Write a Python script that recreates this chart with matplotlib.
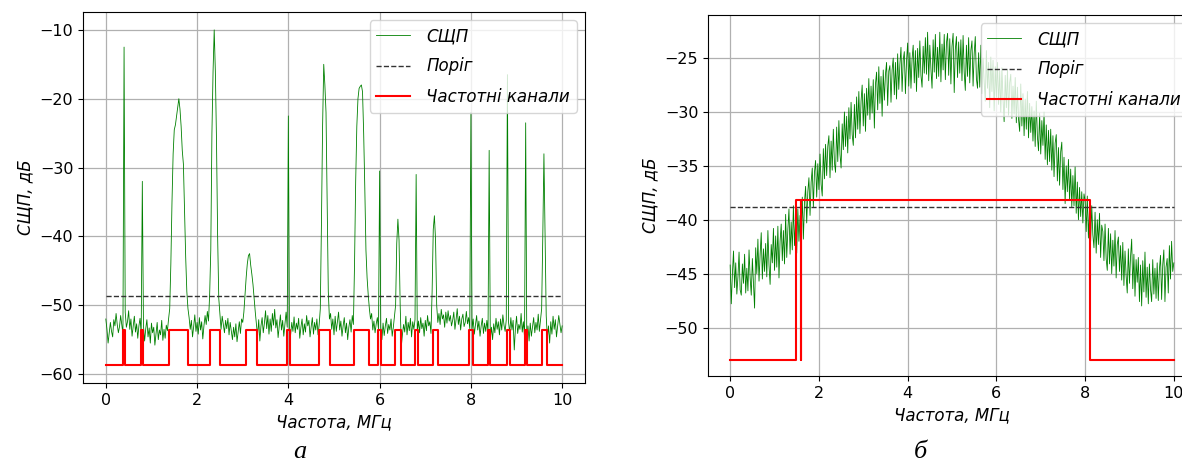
import matplotlib
matplotlib.use("Agg")
import matplotlib.pyplot as plt
import numpy as np

# ---------------- data: panel (а) ----------------
freq_step_a = 0.025  # MHz between PSD samples
psd_a = [
    -52.0,-53.5,-55.5,-54.0,-52.5,-53.8,-54.6,-52.1,-53.0,-51.2,-52.8,-54.0,-53.1,-51.5,-52.9,-54.2,
    -12.5,-51.0,-53.2,-52.4,-50.8,-53.5,-52.0,-54.5,-53.1,-51.6,-53.9,-52.7,-54.8,-53.0,-51.9,-54.1,
    -32.0,-53.0,-55.2,-53.4,-52.1,-54.6,-53.3,-55.5,-52.6,-54.0,-53.2,-55.8,-54.1,-52.5,-55.0,-53.6,
    -54.3,-52.2,-55.1,-53.5,-54.8,-52.9,-53.7,-52.0,-50.5,-44.0,-35.0,-28.0,-24.5,-23.8,-22.5,-21.2,
    -20.0,-21.5,-24.0,-27.5,-29.5,-36.0,-43.0,-48.0,-50.5,-51.8,-53.5,-52.2,-54.6,-53.1,-51.4,-53.8,
    -52.5,-54.2,-51.8,-53.6,-52.4,-54.9,-53.0,-51.5,-52.8,-50.9,-52.3,-48.5,-42.0,-25.0,-16.0,-10.0,
    -16.0,-26.0,-40.0,-49.0,-51.2,-53.5,-51.6,-52.8,-54.0,-52.2,-53.4,-51.9,-54.3,-52.5,-53.8,-55.0,
    -53.2,-54.6,-52.7,-55.3,-53.9,-52.4,-54.1,-52.0,-52.5,-51.0,-48.5,-46.0,-44.0,-42.8,-42.5,-44.2,
    -45.5,-47.0,-49.0,-51.0,-52.8,-54.5,-52.1,-55.2,-53.0,-51.8,-54.0,-52.6,-50.8,-53.4,-51.5,-54.2,
    -52.0,-53.8,-51.2,-52.9,-50.6,-53.3,-52.1,-54.7,-53.0,-51.4,-53.6,-52.2,-54.5,-52.8,-51.0,-53.2,
    -22.5,-56.0,-54.2,-52.5,-53.8,-51.7,-54.0,-52.6,-53.5,-51.9,-54.8,-53.2,-52.0,-54.3,-52.7,-53.9,
    -51.5,-53.0,-52.2,-54.6,-53.1,-51.8,-54.2,-52.5,-53.6,-52.0,-54.3,-52.8,-50.5,-38.0,-24.0,-15.0,
    -18.0,-22.0,-35.0,-48.0,-52.0,-51.2,-53.5,-52.0,-54.3,-51.6,-53.8,-52.4,-51.0,-53.6,-52.3,-54.5,
    -53.0,-51.8,-54.0,-52.6,-55.0,-53.2,-52.1,-53.9,-51.5,-52.8,-44.0,-32.0,-24.0,-20.0,-18.5,-18.2,
    -18.0,-19.0,-25.0,-33.0,-42.0,-46.0,-48.5,-50.5,-52.0,-51.2,-53.6,-52.3,-54.0,-52.7,-51.8,-53.5,
    -30.5,-53.2,-55.0,-52.6,-54.4,-53.0,-51.9,-54.1,-52.8,-53.6,-52.0,-54.5,-53.2,-51.6,-50.0,-41.0,
    -37.5,-40.5,-50.0,-56.0,-54.2,-52.8,-53.9,-51.6,-54.3,-52.5,-53.7,-51.9,-54.6,-52.4,-53.5,-52.1,
    -31.0,-53.8,-52.3,-54.0,-51.8,-53.4,-52.6,-54.5,-52.2,-53.7,-51.5,-53.0,-52.4,-54.1,-48.0,-39.0,
    -37.0,-40.5,-50.0,-52.5,-51.2,-52.8,-50.6,-52.0,-51.4,-53.2,-51.0,-52.6,-50.8,-52.3,-51.5,-53.0,
    -52.2,-51.0,-53.5,-52.1,-50.5,-52.8,-51.6,-53.6,-52.0,-51.3,-53.1,-52.5,-50.9,-52.7,-51.8,-53.4,
    -22.0,-53.5,-52.0,-54.2,-52.8,-51.5,-53.6,-52.3,-54.5,-53.0,-51.9,-54.1,-52.6,-53.8,-52.2,-54.0,
    -27.5,-54.8,-53.2,-55.0,-52.7,-54.0,-51.9,-53.5,-52.4,-54.3,-52.0,-53.6,-51.4,-52.9,-53.8,-52.1,
    -16.5,-52.5,-54.0,-51.8,-53.6,-52.2,-56.5,-53.4,-51.6,-54.1,-52.8,-53.5,-51.2,-53.9,-52.4,-54.6,
    -23.5,-56.0,-53.0,-55.2,-52.6,-54.5,-53.1,-51.8,-54.0,-52.5,-53.6,-51.3,-53.8,-52.2,-50.5,-40.0,
    -28.0,-40.0,-51.5,-54.8,-53.0,-55.5,-52.4,-54.2,-51.6,-53.5,-52.1,-54.6,-53.0,-51.5,-52.8,-54.0,
    -53.0,
]
threshold_a = -48.7
chan_low_a, chan_high_a = -58.7, -53.6
channels_a = [(0.38, 0.42), (0.77, 0.81), (1.39, 1.81), (2.29, 2.51), (3.07, 3.31),
              (3.97, 4.03), (4.68, 4.91), (5.44, 5.77), (5.97, 6.02), (6.34, 6.46),
              (6.77, 6.83), (7.16, 7.27), (7.96, 8.04), (8.38, 8.42), (8.79, 8.85),
              (9.19, 9.23), (9.56, 9.67)]

# ---------------- data: panel (б) ----------------
freq_step_b = 0.025
psd_b = [
    -44.2,-47.8,-45.0,-42.9,-46.3,-44.0,-46.9,-45.3,-43.0,-46.5,-47.0,-44.1,-45.9,-43.2,-46.8,-44.5,
    -46.6,-42.8,-45.4,-47.0,-43.6,-45.9,-48.2,-42.6,-45.0,-41.8,-45.7,-43.2,-41.2,-45.5,-42.7,-44.8,
    -42.2,-45.3,-41.0,-44.2,-46.0,-42.3,-44.0,-40.8,-44.7,-41.5,-44.4,-40.6,-45.4,-42.0,-40.4,-43.8,
    -41.0,-44.1,-39.5,-43.5,-40.9,-39.0,-43.2,-40.2,-42.8,-38.7,-42.4,-39.9,-43.1,-39.0,-42.0,-39.6,
    -41.5,-37.9,-41.8,-38.4,-36.9,-40.3,-37.4,-36.1,-39.6,-36.5,-35.2,-38.8,-35.6,-34.5,-37.9,-34.8,
    -37.2,-33.9,-36.7,-37.8,-33.4,-36.2,-33.0,-35.9,-33.2,-32.2,-36.1,-32.7,-35.4,-31.6,-34.7,-35.6,
    -31.4,-34.6,-30.8,-33.9,-35.2,-31.1,-33.5,-30.0,-33.2,-30.4,-33.8,-29.6,-32.5,-29.1,-32.1,-33.1,
    -29.3,-32.4,-28.6,-31.6,-28.1,-32.0,-29.0,-27.5,-31.3,-28.3,-31.8,-27.8,-30.3,-26.9,-30.7,-27.6,
    -30.1,-27.0,-31.5,-27.4,-26.3,-29.8,-25.8,-29.2,-26.7,-30.4,-26.1,-28.9,-26.5,-25.4,-29.4,-26.2,
    -25.7,-29.1,-26.1,-25.0,-28.4,-25.4,-28.8,-24.6,-27.9,-25.6,-24.0,-28.1,-25.2,-24.4,-28.3,-25.3,
    -23.6,-27.6,-24.5,-27.8,-25.1,-23.8,-27.3,-24.3,-28.1,-24.1,-26.8,-23.4,-26.6,-27.7,-23.9,-26.4,
    -23.1,-26.5,-22.6,-27.1,-23.8,-26.0,-27.8,-23.3,-26.3,-22.8,-26.9,-24.0,-26.7,-22.6,-27.2,-23.7,
    -26.1,-22.8,-27.0,-23.6,-22.7,-26.6,-23.2,-27.4,-23.9,-22.7,-28.2,-24.2,-23.0,-26.8,-23.5,-26.4,
    -23.3,-27.1,-22.9,-26.3,-28.0,-23.8,-26.7,-23.1,-27.3,-24.3,-23.4,-27.6,-24.6,-23.0,-26.9,-27.8,
    -24.5,-27.7,-23.8,-28.3,-25.0,-27.2,-29.0,-24.3,-27.8,-25.4,-29.6,-24.9,-28.1,-25.2,-29.9,-25.8,
    -28.6,-25.4,-29.3,-26.2,-30.0,-25.9,-28.8,-30.9,-26.6,-29.6,-26.1,-30.3,-27.3,-26.5,-30.6,-27.6,
    -30.2,-26.8,-31.0,-27.7,-30.7,-31.8,-27.4,-31.3,-28.3,-32.2,-28.8,-31.6,-28.1,-32.4,-29.2,-31.9,
    -29.5,-32.7,-29.9,-33.2,-29.0,-32.3,-33.6,-30.1,-33.9,-30.8,-33.1,-30.0,-34.4,-31.2,-34.9,-31.7,
    -34.6,-31.6,-35.4,-32.2,-36.0,-32.9,-32.1,-36.4,-33.3,-36.8,-33.7,-32.8,-37.2,-34.2,-38.5,-35.0,
    -37.4,-34.4,-38.2,-35.3,-38.8,-35.9,-38.7,-35.1,-39.4,-36.5,-40.0,-37.0,-39.7,-37.4,-40.3,-37.6,
    -38.2,-41.1,-37.8,-41.7,-38.9,-42.0,-38.7,-41.4,-42.6,-39.3,-43.1,-40.0,-42.3,-39.4,-43.5,-40.5,
    -41.1,-43.8,-40.4,-43.6,-44.7,-40.8,-44.1,-41.3,-45.0,-41.9,-44.3,-41.0,-45.4,-42.3,-41.6,-44.8,
    -42.4,-45.6,-42.1,-46.1,-42.9,-45.2,-46.8,-42.7,-45.9,-43.4,-41.8,-46.4,-43.2,-47.1,-43.7,-45.8,
    -43.5,-47.6,-44.2,-48.0,-43.8,-46.7,-43.0,-47.2,-44.4,-47.8,-44.1,-46.5,-47.6,-43.7,-46.9,-44.5,
    -47.3,-44.0,-47.5,-44.6,-43.3,-47.4,-44.2,-42.8,-47.6,-44.4,-43.6,-46.8,-42.4,-45.5,-42.0,-44.8,
    -44.0,
]
threshold_b = -38.8
chan_low_b, chan_high_b = -53.0, -38.2
channels_b = [(1.48, 1.59), (1.60, 8.10)]

f_start, f_stop = 0.0, 10.0
xticks = [0, 2, 4, 6, 8, 10]

legend_labels = ["СЩП", "Поріг", "Частотні канали"]
xlabel = "Частота, МГц"
ylabel = "СЩП, дБ"
captions = ["а", "б"]


def channel_steps(channels, low, high):
    xs, ys = [f_start], [low]
    for s, e in channels:
        xs += [s, s, e, e]
        ys += [low, high, high, low]
    xs.append(f_stop)
    ys.append(low)
    return xs, ys


def draw(ax, psd, step, thr, channels, low, high, ylim, yticks):
    f = np.arange(len(psd)) * step
    ax.plot(f, psd, color="green", lw=0.6, label=legend_labels[0])
    ax.plot([f_start, f_stop], [thr, thr], color="#333333", ls="--", lw=1.0,
            label=legend_labels[1])
    cx, cy = channel_steps(channels, low, high)
    ax.plot(cx, cy, color="red", lw=1.5, label=legend_labels[2])
    ax.set_xlim(-0.5, 10.5)
    ax.set_ylim(*ylim)
    ax.set_xticks(xticks)
    ax.set_yticks(yticks)
    ax.grid(True, color="#b0b0b0", lw=0.9)
    ax.tick_params(labelsize=11.5)
    ax.set_xlabel(xlabel, fontsize=12, fontstyle="italic")
    ax.set_ylabel(ylabel, fontsize=12, fontstyle="italic")
    leg = ax.legend(loc="upper right", fontsize=12, framealpha=0.8,
                    labelspacing=0.75, handletextpad=1.0)
    for t in leg.get_texts():
        t.set_fontstyle("italic")


fig = plt.figure(figsize=(11.82, 4.61), dpi=100)
ax1 = fig.add_axes([83 / 1182, 1 - 383 / 461, (585 - 83) / 1182, (383 - 12) / 461])
ax2 = fig.add_axes([708 / 1182, 1 - 376 / 461, (1196 - 708) / 1182, (376 - 15) / 461])

draw(ax1, psd_a, freq_step_a, threshold_a, channels_a, chan_low_a, chan_high_a,
     (-61.3, -7.4), [-60, -50, -40, -30, -20, -10])
draw(ax2, psd_b, freq_step_b, threshold_b, channels_b, chan_low_b, chan_high_b,
     (-54.5, -21.0), [-50, -45, -40, -35, -30, -25])

fig.text(300 / 1182, 1 - 452 / 461, captions[0], ha="center", va="center",
         fontsize=19, family="Liberation Serif", fontstyle="italic")
fig.text(920 / 1182, 1 - 452 / 461, captions[1], ha="center", va="center",
         fontsize=19, family="Liberation Serif", fontstyle="italic")

fig.savefig("out.png", dpi=100)
